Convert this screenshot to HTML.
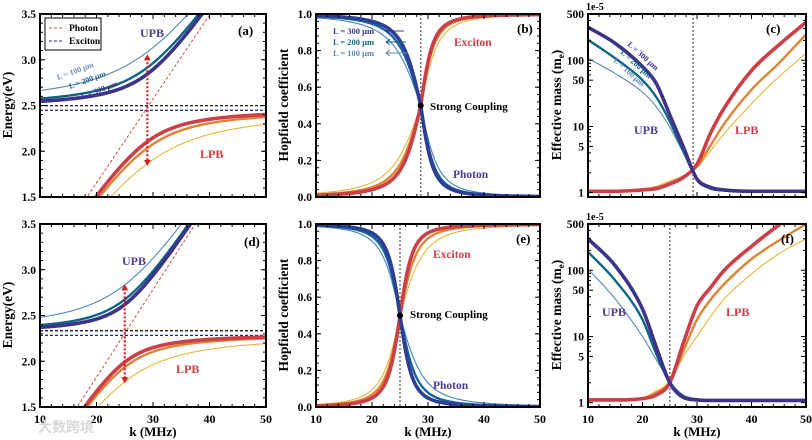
<!DOCTYPE html>
<html><head><meta charset="utf-8"><style>
html,body{margin:0;padding:0;background:#fff;width:812px;height:440px;overflow:hidden}
svg{display:block;font-family:"Liberation Serif",serif;font-weight:bold}
</style></head><body>
<svg id="fig" width="812" height="440" viewBox="0 0 812 440" xmlns="http://www.w3.org/2000/svg" overflow="hidden"></svg>
<script>
// ---- data ----
const kRange=[10,50];
const xTicks=[10,20,30,40,50];
const energyTicks=[1.5,2.0,2.5,3.0,3.5];
const hopTicks=[0.0,0.2,0.4,0.6,0.8,1.0];
const massTicks=[1,5,10,50,100,500];
const lengths=["L = 300 μm","L = 200 μm","L = 100 μm"];
// energy panel parameters
const excitonA=2.47, photonSlopeA=0.0917, kcA=28.9, couplingA=[0.37,0.44,0.61];
const excitonD=2.305, photonSlopeD=0.0957, kcD=25, couplingD=[0.315,0.37,0.53];
// Hopfield widths (left/right of crossing)
const kcB=28.7, widthLeftB=[3.7,4.4,5.6], widthRightB=[2.4,2.7,3.4];
const kcE=25, widthLeftE=[2.4,2.9,3.6], widthRightE=[2.4,3.2,4.6];
// effective mass samples
const kGrid=[10,15,20,22.5,25,27.5,30,32.5,35,40,45,50];
const cUpb300=[316,180,80,45,15,4.9,1.6,1.2,1.1,1.05,1.05,1.05];
const cUpb200=[204,107,50,28,12,4.2,1.6,1.15,1.08,1.04,1.04,1.04];
const cUpb100=[107,63,33,20,9.8,4,1.7,1.25,1.12,1.06,1.05,1.05];
const cLpb300=[1.05,1.05,1.1,1.15,1.35,1.7,2.7,8,19,70,170,375];
const cLpb200=[1.05,1.05,1.1,1.18,1.4,1.75,2.5,5.2,11,36,90,245];
const cLpb100=[1.05,1.07,1.15,1.25,1.5,1.8,2.4,4.3,7.8,22,56,127];
const fUpb300=[300,117,26,7,2,1.2,1.1,1.08,1.08,1.08,1.08,1.08];
const fUpb200=[190,70,18,5.5,2,1.25,1.12,1.08,1.08,1.08,1.08,1.08];
const fUpb100=[105,37,10,4.5,2.1,1.3,1.15,1.1,1.08,1.08,1.08,1.08];
const fLpb300=[1.1,1.1,1.15,1.3,2,8,29,55,100,230,480,900];
const fLpb200=[1.1,1.1,1.15,1.4,2,6,18,36,62,148,280,500];
const fLpb100=[1.1,1.12,1.2,1.5,2.1,5,10,20,37,88,177,300];
const kcC=29.3, kcF=25;

const upbCol=["#3b3488","#0f6585","#5b85b0"];
const lpbCol=["#cc3f47","#df8233","#e6b63a"];
const phCol=["#2b3f93","#17639f","#3f83c0"];
const lw=[3.6,2.4,1.1];

const NS="http://www.w3.org/2000/svg";
const svg=document.getElementById('fig');
function el(tag,attrs,parent,text){const e=document.createElementNS(NS,tag);for(const a in attrs)e.setAttribute(a,attrs[a]);if(text!==undefined)e.textContent=text;(parent||svg).appendChild(e);return e;}

function makePanel(id,x0,x1,y0,y1,yDom,logY,showX){
  const g=el('g',{});
  
  
  const ly=v=>logY?Math.log10(v):v;
  const sx=k=>x0+(k-kRange[0])/(kRange[1]-kRange[0])*(x1-x0);
  const sy=v=>y1-(ly(v)-ly(yDom[0]))/(ly(yDom[1])-ly(yDom[0]))*(y1-y0);
  const cp=el('clipPath',{id:'clip-'+id},g);el('rect',{x:x0,y:y0,width:x1-x0,height:y1-y0},cp);
  const plot=el('g',{'clip-path':'url(#clip-'+id+')'},g);
  return {g,plot,sx,sy,x0,x1,y0,y1,yDom,logY,showX,id};
}
function frame(p,yTicks,fmt){
  const ax=el('g',{},p.g);
  
  
  for(let k=10;k<=50;k+=2){const x=p.sx(k),L=(k%10===0)?5:3;
    el('line',{x1:x,x2:x,y1:p.y1,y2:p.y1-L,stroke:'#000','stroke-width':1},ax);
    el('line',{x1:x,x2:x,y1:p.y0,y2:p.y0+L,stroke:'#000','stroke-width':1},ax);}
  if(p.showX){xTicks.forEach(k=>{const t=el('text',{x:p.sx(k),y:p.y1+16,'text-anchor':'middle','font-size':12},ax,String(k));});
    const t=el('text',{x:(p.x0+p.x1)/2,y:p.y1+29,'text-anchor':'middle','font-size':13},ax,'k (MHz)');}
  yTicks.forEach(v=>{const y=p.sy(v);
    el('line',{x1:p.x0,x2:p.x0+5,y1:y,y2:y,stroke:'#000'},ax);el('line',{x1:p.x1,x2:p.x1-5,y1:y,y2:y,stroke:'#000'},ax);
    const t=el('text',{x:p.x0-4,y:y+4,'text-anchor':'end','font-size':11.5},ax,fmt(v));});
  if(p.logY){[2,3,4,6,7,8,9,20,30,40,60,70,80,90,200,300,400].forEach(v=>{const y=p.sy(v);
    el('line',{x1:p.x0,x2:p.x0+3,y1:y,y2:y,stroke:'#000'},ax);el('line',{x1:p.x1,x2:p.x1-3,y1:y,y2:y,stroke:'#000'},ax);});}
  else{const st=(yTicks[1]-yTicks[0])/5;for(let v=p.yDom[0];v<=p.yDom[1]+1e-9;v+=st){const y=p.sy(v);
    el('line',{x1:p.x0,x2:p.x0+3,y1:y,y2:y,stroke:'#000'},ax);el('line',{x1:p.x1,x2:p.x1-3,y1:y,y2:y,stroke:'#000'},ax);}}
  el('rect',{x:p.x0,y:p.y0,width:p.x1-p.x0,height:p.y1-p.y0,fill:'none',stroke:'#000','stroke-width':2},ax);
}
function fnPath(p,f,col,w,name,dash){
  let d='';for(let k=10;k<=50.001;k+=0.25){const y=Math.max(p.y0-3,Math.min(p.y1+3,p.sy(f(k))));d+=(d?'L':'M')+p.sx(k).toFixed(2)+','+y.toFixed(2);}
  const e=el('path',{d,fill:'none',stroke:col,'stroke-width':w},p.plot);if(dash)e.setAttribute('stroke-dasharray',dash);
  return e;}
// monotone cubic (Fritsch-Carlson) through data points in pixel space
function dataPath(p,ks,vs,col,w,name){
  const X=ks.map(k=>p.sx(k)),Y=vs.map(v=>p.sy(v)),n=X.length;
  const dl=[],m=[];
  for(let i=0;i<n-1;i++)dl.push((Y[i+1]-Y[i])/(X[i+1]-X[i]));
  m[0]=dl[0];m[n-1]=dl[n-2];
  for(let i=1;i<n-1;i++){m[i]=(dl[i-1]*dl[i]<=0)?0:(dl[i-1]+dl[i])/2;}
  for(let i=0;i<n-1;i++){if(dl[i]===0){m[i]=0;m[i+1]=0;continue;}
    const a=m[i]/dl[i],b=m[i+1]/dl[i],s=a*a+b*b;if(s>9){const t=3/Math.sqrt(s);m[i]=t*a*dl[i];m[i+1]=t*b*dl[i];}}
  let d='M'+X[0]+','+Y[0];
  for(let i=0;i<n-1;i++){const h=(X[i+1]-X[i])/3;
    d+='C'+(X[i]+h)+','+(Y[i]+m[i]*h)+' '+(X[i+1]-h)+','+(Y[i+1]-m[i+1]*h)+' '+X[i+1]+','+Y[i+1];}
  const e=el('path',{d,fill:'none',stroke:col,'stroke-width':w,'stroke-linejoin':'round'},p.plot);
  }
function label(x,y,txt,col,size,name,rot){const t=el('text',{x,y,fill:col,'font-size':size},svg,txt);if(rot)t.setAttribute('transform','rotate('+rot+' '+x+' '+y+')');
  return t;}
function vline(p,k){const e=el('line',{x1:p.sx(k),x2:p.sx(k),y1:p.y0,y2:p.y1,stroke:'#777','stroke-width':1.5,'stroke-dasharray':'2,2'},p.plot);
  }
function ytitle(x,y,txt,name,sub){const t=el('text',{x,y,'text-anchor':'middle','font-size':13.5,transform:'rotate(-90 '+x+' '+y+')'},svg,txt);
  if(sub){el('tspan',{'font-size':9,dy:3},t,sub);el('tspan',{dy:-3},t,')');}
  }
function arrow(p,k,e1,e2,name){const g=el('g',{},p.plot);
  const x=p.sx(k),ya=p.sy(e1),yb=p.sy(e2);
  el('line',{x1:x,x2:x,y1:ya+4,y2:yb-4,stroke:'#d42020','stroke-width':2.2,'stroke-dasharray':'2,2'},g);
  el('path',{d:`M${x-3.5},${ya+6}L${x},${ya}L${x+3.5},${ya+6}Z`,fill:'#d42020'},g);
  el('path',{d:`M${x-3.5},${yb-6}L${x},${yb}L${x+3.5},${yb-6}Z`,fill:'#d42020'},g);}

// ---- energy panels ----
function energyPanel(id,y0,y1,Ex,slope,kc,gs,showX){
  const p=makePanel(id,40,266,y0,y1,[1.5,3.5],false,showX);
  const ph=k=>Ex+slope*(k-kc);
  fnPath(p,ph,'#d2503a',1,'photon-line','3,2');
  const ex1=el('line',{x1:p.x0,x2:p.x1,y1:p.sy(Ex+0.028),y2:p.sy(Ex+0.028),stroke:'#000','stroke-width':1.2,'stroke-dasharray':'3,2'},p.plot);
  
  const ex2=el('line',{x1:p.x0,x2:p.x1,y1:p.sy(Ex-0.022),y2:p.sy(Ex-0.022),stroke:'#1a237e','stroke-width':1.2,'stroke-dasharray':'3,2'},p.plot);
  
  for(let i=2;i>=0;i--){const g=gs[i];
    fnPath(p,k=>{const e=ph(k);return (e+Ex)/2+Math.sqrt(g*g+(e-Ex)*(e-Ex)/4);},upbCol[i],lw[i],'upb-curve-'+(300-100*i));
    fnPath(p,k=>{const e=ph(k);return (e+Ex)/2-Math.sqrt(g*g+(e-Ex)*(e-Ex)/4);},lpbCol[i],lw[i],'lpb-curve-'+(300-100*i));}
  frame(p,energyTicks,v=>v.toFixed(1));
  return {p,ph};
}
const A=energyPanel('a',14,197,excitonA,photonSlopeA,kcA,couplingA,false);
arrow(A.p,29,3.06,1.84,'rabi-arrow-a');
const D=energyPanel('d',224,407,excitonD,photonSlopeD,kcD,couplingD,true);
arrow(D.p,25,2.84,1.76,'rabi-arrow-d');
// legend
const lg=el('g',{});
el('rect',{x:45,y:18,width:56,height:32,fill:'#fff',stroke:'#000','stroke-width':1},lg);
el('line',{x1:49,x2:64,y1:28,y2:28,stroke:'#d2503a','stroke-dasharray':'3,2'},lg);
el('line',{x1:49,x2:64,y1:41,y2:41,stroke:'#1a237e','stroke-dasharray':'3,2'},lg);
el('text',{x:69,y:31,'font-size':9.5},lg,'Photon');el('text',{x:69,y:44,'font-size':9.5},lg,'Exciton');
label(140,37,'UPB','#4a3d96',12,'upb-label-a');label(238,35,'(a)','#000',13,'panel-label-a');
label(200,158,'LPB','#cc3f47',12,'lpb-label-a');
label(58,80,'L = 100 μm','#6b8fbb',8,'length-label-100',-20);
label(70,89,'L = 200 μm','#1c6a8c',8,'length-label-200',-20);
label(82,99,'L = 300 μm','#3b3488',8,'length-label-300',-20);
label(122,265,'UPB','#4a3d96',12,'upb-label-d');label(244,246,'(d)','#000',13,'panel-label-d');
label(176,373,'LPB','#cc3f47',12,'lpb-label-d');
ytitle(12,105,'Energy(eV)','y-axis-title-a');ytitle(12,315,'Energy(eV)','y-axis-title-d');

// ---- Hopfield panels ----
function hopPanel(id,y0,y1,kc,wl,wr,showX){
  const p=makePanel(id,316,540,y0,y1,[0,1],false,showX);
  vline(p,kc);
  const X=(k,i)=>{const d=k-kc,w=d<0?wl[i]:wr[i];return 0.5*(1+d/Math.sqrt(d*d+w*w));};
  for(let i=2;i>=0;i--){fnPath(p,k=>X(k,i),lpbCol[i],lw[i],'exciton-fraction-'+(300-100*i));}
  for(let i=2;i>=0;i--){fnPath(p,k=>1-X(k,i),phCol[i],lw[i],'photon-fraction-'+(300-100*i));}
  const dot=el('circle',{cx:p.sx(kc),cy:p.sy(0.5),r:3,fill:'#000'},p.g);
  frame(p,hopTicks,v=>v.toFixed(1));return p;}
const B=hopPanel('b',14,197,kcB,widthLeftB,widthRightB,false);
const E=hopPanel('e',224,407,kcE,widthLeftE,widthRightE,true);
label(430,110,'Strong Coupling','#000',11,'strong-coupling-label-b');
label(454,46,'Exciton','#cc3f47',11.5,'exciton-label-b');label(453,178,'Photon','#4a3d96',11.5,'photon-label-b');
label(517,33,'(b)','#000',13,'panel-label-b');
label(410,318,'Strong Coupling','#000',11,'strong-coupling-label-e');
label(433,258,'Exciton','#cc3f47',11.5,'exciton-label-e');label(433,389,'Photon','#4a3d96',11.5,'photon-label-e');
label(516,243,'(e)','#000',13,'panel-label-e');
[[333,34,'#3b3488'],[333,45,'#0f6585'],[333,56,'#5b85b0']].forEach((c,i)=>{
  label(c[0],c[1],lengths[i],c[2],8.5,'hopfield-length-label-'+(300-100*i));
  const a=el('g',{});
  el('line',{x1:386,x2:404+i*2,y1:c[1]-3,y2:c[1]-3,stroke:c[2],'stroke-width':1},a);
  el('path',{d:`M${390},${c[1]-6}L${386},${c[1]-3}L${390},${c[1]}`,fill:'none',stroke:c[2]},a);});
ytitle(288,105,'Hopfield coefficient','y-axis-title-b');ytitle(288,315,'Hopfield coefficient','y-axis-title-e');

// ---- mass panels ----
function massPanel(id,y0,y1,kc,ups,lps,showX){
  const p=makePanel(id,588,806,y0,y1,[0.86,500],true,showX);
  vline(p,kc);
  for(let i=2;i>=0;i--)dataPath(p,kGrid,lps[i],lpbCol[i],lw[i],'lpb-mass-'+(300-100*i));
  for(let i=2;i>=0;i--)dataPath(p,kGrid,ups[i],upbCol[i],lw[i],'upb-mass-'+(300-100*i));
  frame(p,massTicks,v=>String(v));
  label(p.x0-2,p.y0-4,'1e-5','#000',10,'scale-label-'+id);return p;}
massPanel('c',14,197,kcC,[cUpb300,cUpb200,cUpb100],[cLpb300,cLpb200,cLpb100],false);
massPanel('f',224,407,kcF,[fUpb300,fUpb200,fUpb100],[fLpb300,fLpb200,fLpb100],true);
label(766,33,'(c)','#000',13,'panel-label-c');label(634,134,'UPB','#4a3d96',12,'upb-label-c');label(735,134,'LPB','#cc3f47',12,'lpb-label-c');
label(627,45,'L = 300 μm','#3b3488',8,'mass-length-label-300',42);
label(620,53,'L = 200 μm','#0f6585',8,'mass-length-label-200',42);
label(613,61,'L = 100 μm','#5b85b0',8,'mass-length-label-100',42);
label(781,243,'(f)','#000',13,'panel-label-f');label(602,316,'UPB','#4a3d96',12,'upb-label-f');label(726,316,'LPB','#cc3f47',12,'lpb-label-f');
ytitle(561,105,'Effective mass (m','y-axis-title-c','e');ytitle(561,315,'Effective mass (m','y-axis-title-f','e');
label(38,432,'大数跨境','#d8d8d8',14,'watermark').setAttribute('font-family','"Noto Sans CJK SC",sans-serif');
</script>
</body></html>
